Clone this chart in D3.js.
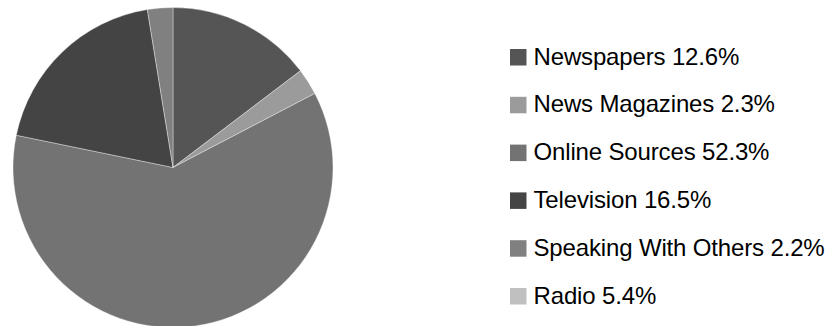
<!DOCTYPE html>
<html>
<head>
<meta charset="utf-8">
<script src="https://cdn.jsdelivr.net/npm/d3@7"></script>
<style>
  html, body { margin: 0; padding: 0; background: #fff; }
  svg { display: block; }
  text { font-family: "Liberation Sans", Arial, sans-serif; }
</style>
</head>
<body>
<svg id="chart" width="835" height="326"></svg>
<script>
// News source shares (percent)
const sources = ["Newspapers", "News Magazines", "Online Sources", "Television", "Speaking With Others", "Radio"];
const shares  = [12.6, 2.3, 52.3, 16.5, 2.2, 5.4];
// Radio is listed in the legend but has no wedge in the pie
const inPie   = [true, true, true, true, true, false];
const colors  = ["#555555", "#9b9b9b", "#737373", "#444444", "#808080", "#c0c0c0"];

const svg = d3.select("#chart");

const cx = 173, cy = 167.5, radius = 160;

const data = sources.map((name, i) => ({ name, value: shares[i], color: colors[i], plotted: inPie[i] }));

const pie = d3.pie().sort(null).value(d => d.value);
const arc = d3.arc().innerRadius(0).outerRadius(radius);

svg.append("g")
  .attr("transform", `translate(${cx},${cy})`)
  .selectAll("path")
  .data(pie(data.filter(d => d.plotted)))
  .join("path")
  .attr("d", arc)
  .attr("fill", d => d.data.color)
  .attr("stroke", "#ffffff")
  .attr("stroke-opacity", 0.45)
  .attr("stroke-width", 0.8);

// Legend
const legendX = 510, firstBaseline = 64.5, rowStep = 47.8, box = 16.5;
const legend = svg.append("g");
const rows = legend.selectAll("g")
  .data(data)
  .join("g")
  .attr("transform", (d, i) => `translate(${legendX},${firstBaseline + i * rowStep})`);

rows.append("rect")
  .attr("x", 0)
  .attr("y", -15.5)
  .attr("width", box)
  .attr("height", box)
  .attr("fill", d => d.color);

rows.append("text")
  .attr("x", 23.5)
  .attr("y", 0)
  .attr("font-size", 24)
  .attr("letter-spacing", -0.15)
  .attr("fill", "#000")
  .text(d => `${d.name} ${d.value.toFixed(1)}%`);
</script>
</body>
</html>
